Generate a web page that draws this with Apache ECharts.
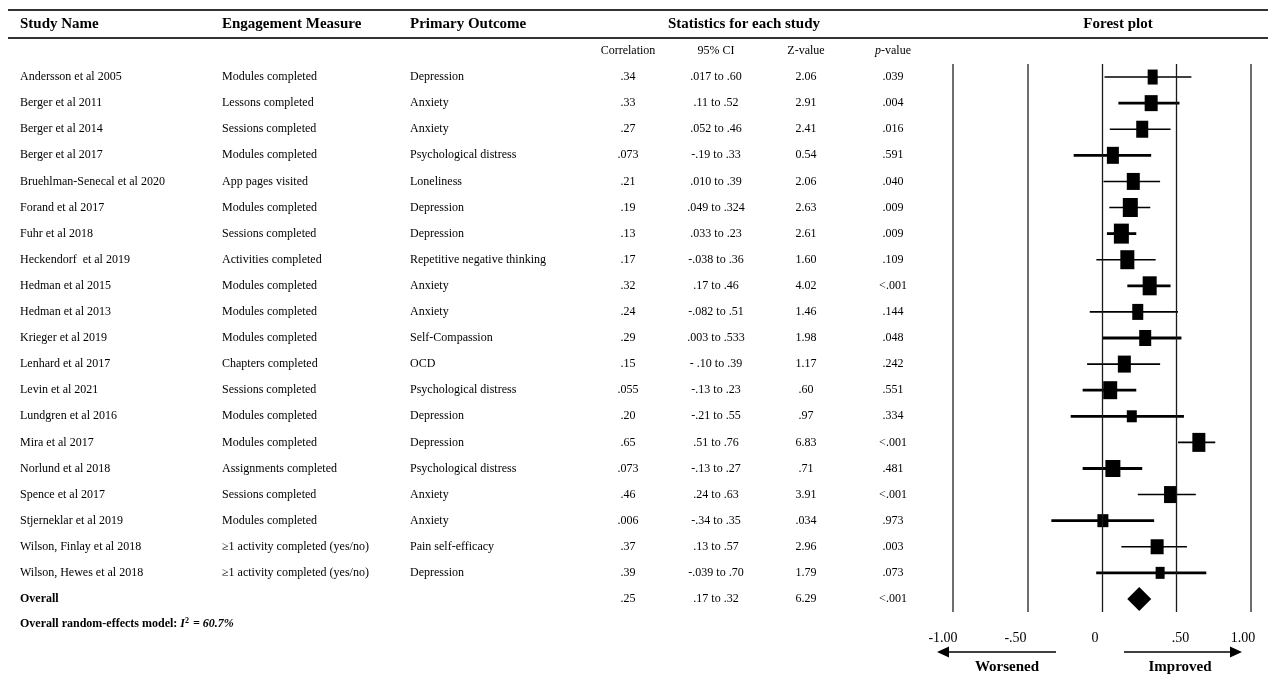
<!DOCTYPE html>
<html>
<head>
<meta charset="utf-8">
<script src="https://cdn.jsdelivr.net/npm/echarts@6/dist/echarts.min.js"></script>
<style>
  html, body { margin: 0; padding: 0; background: #fff; }
  #chart { width: 1275px; height: 677px; }
</style>
</head>
<body>
<div id="chart"></div>
<script>
// table rows (last row is the pooled estimate)
const studies = ['Andersson et al 2005', 'Berger et al 2011', 'Berger et al 2014', 'Berger et al 2017',
  'Bruehlman-Senecal et al 2020', 'Forand et al 2017', 'Fuhr et al 2018', 'Heckendorf  et al 2019',
  'Hedman et al 2015', 'Hedman et al 2013', 'Krieger et al 2019', 'Lenhard et al 2017', 'Levin et al 2021',
  'Lundgren et al 2016', 'Mira et al 2017', 'Norlund et al 2018', 'Spence et al 2017',
  'Stjerneklar et al 2019', 'Wilson, Finlay et al 2018', 'Wilson, Hewes et al 2018', 'Overall']
const measures = ['Modules completed', 'Lessons completed', 'Sessions completed', 'Modules completed',
  'App pages visited', 'Modules completed', 'Sessions completed', 'Activities completed', 'Modules completed',
  'Modules completed', 'Modules completed', 'Chapters completed', 'Sessions completed', 'Modules completed',
  'Modules completed', 'Assignments completed', 'Sessions completed', 'Modules completed',
  '≥1 activity completed (yes/no)', '≥1 activity completed (yes/no)', '']
const outcomes = ['Depression', 'Anxiety', 'Anxiety', 'Psychological distress', 'Loneliness', 'Depression',
  'Depression', 'Repetitive negative thinking', 'Anxiety', 'Anxiety', 'Self-Compassion', 'OCD',
  'Psychological distress', 'Depression', 'Depression', 'Psychological distress', 'Anxiety', 'Anxiety',
  'Pain self-efficacy', 'Depression', '']
const corrText = ['.34', '.33', '.27', '.073', '.21', '.19', '.13', '.17', '.32', '.24', '.29', '.15', '.055',
  '.20', '.65', '.073', '.46', '.006', '.37', '.39', '.25']
const ciText = ['.017 to .60', '.11 to .52', '.052 to .46', '-.19 to .33', '.010 to .39', '.049 to .324',
  '.033 to .23', '-.038 to .36', '.17 to .46', '-.082 to .51', '.003 to .533', '- .10 to .39', '-.13 to .23',
  '-.21 to .55', '.51 to .76', '-.13 to .27', '.24 to .63', '-.34 to .35', '.13 to .57', '-.039 to .70',
  '.17 to .32']
const zText = ['2.06', '2.91', '2.41', '0.54', '2.06', '2.63', '2.61', '1.60', '4.02', '1.46', '1.98', '1.17',
  '.60', '.97', '6.83', '.71', '3.91', '.034', '2.96', '1.79', '6.29']
const pText = ['.039', '.004', '.016', '.591', '.040', '.009', '.009', '.109', '<.001', '.144', '.048', '.242',
  '.551', '.334', '<.001', '.481', '<.001', '.973', '.003', '.073', '<.001']

// values for the forest plot
const effect = [0.34, 0.33, 0.27, 0.073, 0.21, 0.19, 0.13, 0.17, 0.32, 0.24, 0.29, 0.15, 0.055, 0.20, 0.65,
  0.073, 0.46, 0.006, 0.37, 0.39]
const ciLow = [0.017, 0.11, 0.052, -0.19, 0.010, 0.049, 0.033, -0.038, 0.17, -0.082, 0.003, -0.10, -0.13,
  -0.21, 0.51, -0.13, 0.24, -0.34, 0.13, -0.039]
const ciHigh = [0.60, 0.52, 0.46, 0.33, 0.39, 0.324, 0.23, 0.36, 0.46, 0.51, 0.533, 0.39, 0.23, 0.55, 0.76,
  0.27, 0.63, 0.35, 0.57, 0.70]
const overallEffect = 0.25
const refLines = [-1, -0.5, 0, 0.5, 1]
const tickLabels = ['-1.00', '-.50', '0', '.50', '1.00']

// styling per row (box size in px, CI stroke width)
const boxSize = [[10, 15], [13, 16], [12, 17], [12, 17], [13, 17], [15, 19], [15, 20], [14, 19], [14, 19],
  [11, 16], [12, 16], [13, 17], [14, 18], [10, 12], [13, 19], [15, 17], [13, 17], [11, 13], [13, 15], [9, 12]]
const ciWidth = [1.6, 2.8, 1.6, 2.8, 1.6, 1.6, 2.8, 1.6, 2.8, 1.6, 2.8, 1.6, 2.8, 2.8, 1.6, 2.8, 1.6, 2.8, 1.6, 2.8]
const labelShift = [-10, -12, -7, 4, -8]

const FONT = "'Liberation Serif', 'Times New Roman', serif"
const INK = '#000'
const rows = studies.map((_, i) => i)

const TOP = 64
const HEIGHT = 548

function textColumn(values, x, align) {
  return {
    type: 'scatter',
    xAxisIndex: 0,
    yAxisIndex: 0,
    symbolSize: 0,
    silent: true,
    itemStyle: { opacity: 1 },
    data: values.map((v, i) => ({
      value: [x, i],
      label: v === 'Overall' ? { fontWeight: 'bold' } : undefined,
    })),
    label: {
      show: true,
      position: 'inside',
      align: align,
      verticalAlign: 'middle',
      formatter: (p) => values[p.dataIndex],
      fontFamily: FONT,
      fontSize: 12,
      color: INK,
      opacity: 1,
      textBorderWidth: 0,
    },
  }
}

function headText(text, x, y, align, size, weight) {
  return {
    type: 'text',
    x: x,
    y: y,
    silent: true,
    style: {
      text: text,
      fill: INK,
      font: `${weight} ${size}px ${FONT}`,
      textAlign: align,
      textVerticalAlign: 'middle',
    },
  }
}

const chart = echarts.init(document.getElementById('chart'))

const option = {
  backgroundColor: '#fff',
  animation: false,
  grid: [
    { left: 0, top: TOP, width: 940, height: HEIGHT },
    { left: 953, top: TOP, right: 24, height: HEIGHT },
  ],
  xAxis: [
    { gridIndex: 0, type: 'value', min: 0, max: 940, show: false },
    {
      gridIndex: 1,
      type: 'value',
      min: -1,
      max: 1,
      interval: 0.5,
      axisLine: { show: false },
      axisTick: { show: false },
      splitLine: { show: false },
      axisLabel: {
        margin: 19,
        formatter: (v) => {
          const k = refLines.indexOf(v)
          return `{s${k}|${tickLabels[k]}}`
        },
        rich: Object.fromEntries(labelShift.map((s, k) => [
          's' + k,
          {
            fontFamily: FONT,
            fontSize: 14,
            color: INK,
            padding: s < 0 ? [0, -2 * s, 0, 0] : [0, 0, 0, 2 * s],
          },
        ])),
      },
    },
  ],
  yAxis: [
    { gridIndex: 0, type: 'category', data: rows, inverse: true, show: false },
    { gridIndex: 1, type: 'category', data: rows, inverse: true, show: false },
  ],
  series: [
    textColumn(studies, 20, 'left'),
    textColumn(measures, 222, 'left'),
    textColumn(outcomes, 410, 'left'),
    textColumn(corrText, 628, 'center'),
    textColumn(ciText, 716, 'center'),
    textColumn(zText, 806, 'center'),
    textColumn(pText, 893, 'center'),
    {
      // study CIs and weighted boxes
      type: 'custom',
      xAxisIndex: 1,
      yAxisIndex: 1,
      silent: true,
      data: effect.map((r, i) => [r, i, ciLow[i], ciHigh[i]]),
      encode: { x: [0, 2, 3], y: 1 },
      renderItem: (params, api) => {
        const i = api.value(1)
        const lo = api.coord([api.value(2), i])
        const hi = api.coord([api.value(3), i])
        const mid = api.coord([api.value(0), i])
        const sz = boxSize[i]
        return {
          type: 'group',
          children: [
            {
              type: 'line',
              shape: { x1: lo[0], y1: lo[1], x2: hi[0], y2: hi[1] },
              style: { stroke: '#000', lineWidth: ciWidth[i] },
            },
            {
              type: 'rect',
              shape: { x: mid[0] - sz[0] / 2, y: mid[1] - sz[1] / 2, width: sz[0], height: sz[1] },
              style: { fill: '#000' },
            },
          ],
        }
      },
      markLine: {
        silent: true,
        symbol: 'none',
        label: { show: false },
        data: refLines.map((v) => ({
          xAxis: v,
          lineStyle: {
            type: 'solid',
            color: v === 0 || v === 0.5 ? '#1a1a1a' : '#6e6e6e',
            width: v === 0 || v === 0.5 ? 1.3 : 2,
          },
        })),
      },
    },
    {
      // pooled estimate
      type: 'scatter',
      xAxisIndex: 1,
      yAxisIndex: 1,
      silent: true,
      symbol: 'diamond',
      symbolSize: [24, 24],
      itemStyle: { color: '#000', opacity: 1 },
      data: [[overallEffect, studies.length - 1]],
    },
  ],
  graphic: [
    { type: 'line', silent: true, shape: { x1: 8, y1: 10, x2: 1268, y2: 10 }, style: { stroke: '#333', lineWidth: 2 } },
    { type: 'line', silent: true, shape: { x1: 8, y1: 38, x2: 1268, y2: 38 }, style: { stroke: '#333', lineWidth: 2 } },
    headText('Study Name', 20, 24, 'left', 15, 'bold'),
    headText('Engagement Measure', 222, 24, 'left', 15, 'bold'),
    headText('Primary Outcome', 410, 24, 'left', 15, 'bold'),
    headText('Statistics for each study', 744, 24, 'center', 15, 'bold'),
    headText('Forest plot', 1118, 24, 'center', 15, 'bold'),
    headText('Correlation', 628, 51, 'center', 12, 'normal'),
    headText('95% CI', 716, 51, 'center', 12, 'normal'),
    headText('Z-value', 806, 51, 'center', 12, 'normal'),
    {
      type: 'text',
      x: 893,
      y: 51,
      silent: true,
      style: {
        text: '{i|p}-value',
        fill: INK,
        font: `12px ${FONT}`,
        textAlign: 'center',
        textVerticalAlign: 'middle',
        rich: { i: { fontFamily: FONT, fontSize: 12, fontStyle: 'italic', fill: INK } },
      },
    },
    {
      type: 'text',
      x: 20,
      y: 624,
      silent: true,
      style: {
        text: 'Overall random-effects model: {i|I}{sup|2}{i| = 60.7%}',
        fill: INK,
        font: `bold 12px ${FONT}`,
        textVerticalAlign: 'middle',
        rich: {
          i: { fontFamily: FONT, fontSize: 12, fontWeight: 'bold', fontStyle: 'italic', fill: INK },
          sup: { fontFamily: FONT, fontSize: 8, fontWeight: 'bold', fill: INK, verticalAlign: 'top', padding: [0, 1, 6, 0] },
        },
      },
    },
    // direction arrows under the axis
    { type: 'line', silent: true, shape: { x1: 1056, y1: 652, x2: 946, y2: 652 }, style: { stroke: '#000', lineWidth: 1.5 } },
    { type: 'polygon', silent: true, shape: { points: [[937, 652], [949, 646.5], [949, 657.5]] }, style: { fill: '#000' } },
    { type: 'line', silent: true, shape: { x1: 1124, y1: 652, x2: 1233, y2: 652 }, style: { stroke: '#000', lineWidth: 1.5 } },
    { type: 'polygon', silent: true, shape: { points: [[1242, 652], [1230, 646.5], [1230, 657.5]] }, style: { fill: '#000' } },
    headText('Worsened', 1007, 667, 'center', 15, 'bold'),
    headText('Improved', 1180, 667, 'center', 15, 'bold'),
  ],
}

chart.setOption(option)
window.addEventListener('resize', () => chart.resize())
</script>
</body>
</html>
